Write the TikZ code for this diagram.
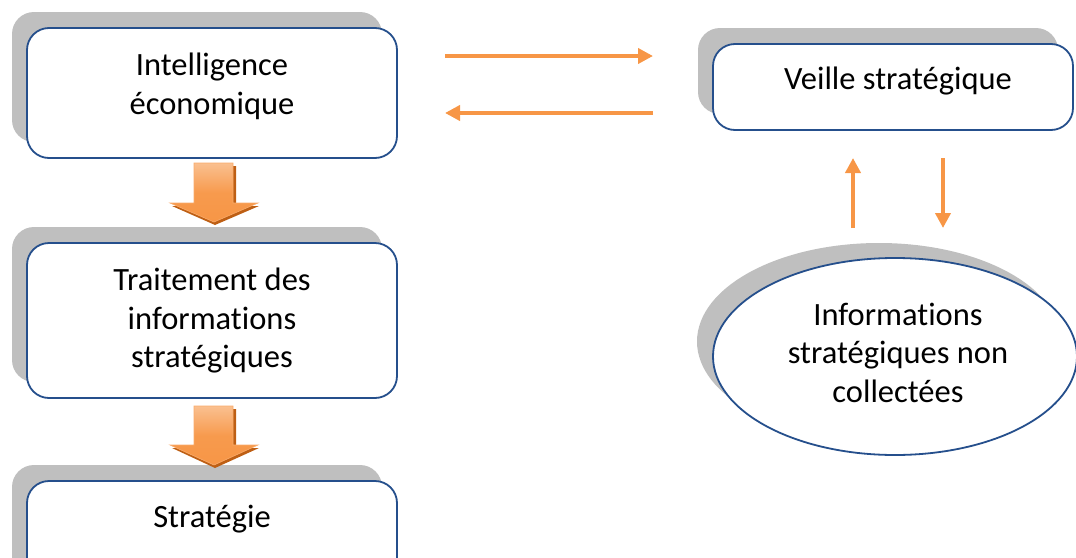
\documentclass[tikz,border=0pt]{standalone}
\usepackage{fontspec}
\setmainfont{Carlito}[Ligatures=NoCommon]
\usetikzlibrary{arrows.meta,shapes.geometric,shadows}
\definecolor{boxblue}{RGB}{37,79,140}
\definecolor{shadowgray}{RGB}{191,191,191}
\definecolor{orangeline}{RGB}{247,150,70}
\definecolor{orangelight}{RGB}{250,192,144}
\definecolor{orangedark}{RGB}{190,95,20}
\tikzset{
  boxshadow/.style={drop shadow={shadow xshift=-15pt, shadow yshift=16pt, fill=shadowgray, opacity=1}},
  roundbox/.style={draw=boxblue, line width=1.8pt, fill=white, rounded corners=22pt, boxshadow},
  ovalbox/.style={ellipse, draw=boxblue, line width=1.8pt, fill=white, inner sep=0pt,
    drop shadow={shadow xshift=-16pt, shadow yshift=15pt, fill=shadowgray, opacity=1}},
  lbl/.style={font=\fontsize{32.5}{38.5}\selectfont, align=center, inner sep=0pt},
  linkarrow/.style={draw=orangeline, line width=4pt, -{Triangle[length=15pt,width=15pt]}},
}
\begin{document}
\begin{tikzpicture}[x=1pt,y=-1pt]
\useasboundingbox (0,0) rectangle (1076,557);
\clip (0,0) rectangle (1076,557);
% boxes
\node[roundbox, minimum width=370pt, minimum height=130pt] (b1) at (212,93) {};
\node[roundbox, minimum width=370pt, minimum height=155pt] (b2) at (212,320.5) {};
\node[roundbox, minimum width=370pt, minimum height=130pt] (b3) at (212,546) {};
\node[roundbox, minimum width=360pt, minimum height=86pt] (v) at (893,87) {};
\node[ovalbox, minimum width=364pt, minimum height=197pt] (e) at (895,356.5) {};
% labels
\node[lbl] (t1) at (212,86.5) {Intelligence\\économique};
\node[lbl] (t2) at (212,321) {Traitement des\\informations\\stratégiques};
\node[lbl] (t3) at (212,519) {Stratégie};
\node[lbl] (tv) at (898,81.5) {Veille stratégique};
\node[lbl] (te) at (898,352.5) {Informations\\stratégiques non\\collectées};
% block arrows
\foreach \yt/\yh/\ytip [count=\i] in {163/203/222, 406/445/465}{
  \fill[orangedark] (197,\yt+3) -- (236,\yt+3) -- (236,\yh+3) -- (259,\yh+3) -- (215,\ytip+3) -- (172,\yh+3) -- (197,\yh+3) -- cycle;
  \shade[top color=orangelight, bottom color=orangeline, middle color=orangeline!90!orangelight]
    (194,\yt) -- (233,\yt) -- (233,\yh) -- (258,\yh) -- (214,\ytip) -- (170,\yh) -- (194,\yh) -- cycle;
  \draw[orangeline!80!white, line width=0.6pt]
    (194,\yt) -- (233,\yt) -- (233,\yh) -- (258,\yh) -- (214,\ytip) -- (170,\yh) -- (194,\yh) -- cycle;
}
% thin arrows
\coordinate (h1a) at (445,56);
\coordinate (h1b) at (653,56);
\coordinate (h2a) at (653,113);
\coordinate (h2b) at (445,113);
\coordinate (u1a) at (853,228);
\coordinate (u1b) at (853,158);
\coordinate (d1a) at (943,158);
\coordinate (d1b) at (943,228);
\draw[linkarrow] (h1a) -- (h1b);
\draw[linkarrow] (h2a) -- (h2b);
\draw[linkarrow] (u1a) -- (u1b);
\draw[linkarrow] (d1a) -- (d1b);
\end{tikzpicture}
\end{document}
